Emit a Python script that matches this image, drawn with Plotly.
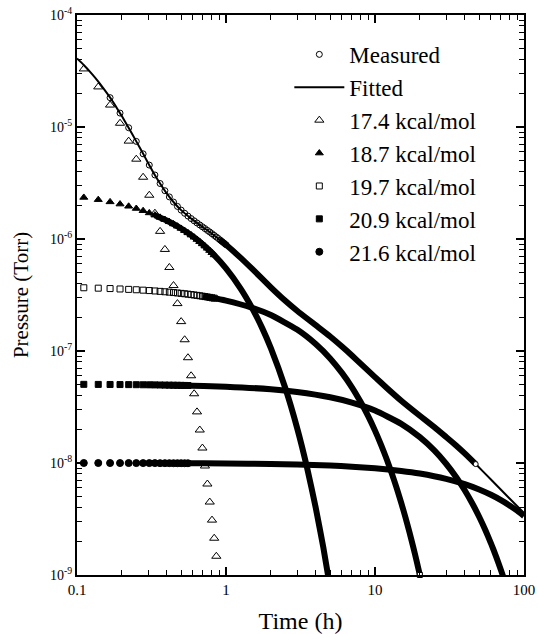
import plotly.graph_objects as go

# ---------------- data ----------------
# sampling times of the separated markers (h)
t_sample = [0.1111, 0.1389, 0.1667, 0.1944, 0.2222, 0.25, 0.2778, 0.3056, 0.3333,
            0.3611, 0.3889, 0.4167, 0.4444, 0.4722, 0.5, 0.5278, 0.5556, 0.5833,
            0.6111, 0.6389, 0.6667, 0.6944, 0.7222, 0.75, 0.7778, 0.8056, 0.8333,
            0.8611, 0.8889, 0.9167, 0.9444, 0.9722, 1.0]

# Measured (open circles), starts at the 3rd sample time
meas_pts = [1.828e-5, 1.331e-5, 9.85e-6, 7.44e-6, 5.76e-6, 4.57e-6, 3.73e-6, 3.13e-6,
            2.70e-6, 2.376e-6, 2.137e-6, 1.954e-6, 1.811e-6, 1.697e-6, 1.602e-6,
            1.522e-6, 1.453e-6, 1.391e-6, 1.336e-6, 1.285e-6, 1.239e-6, 1.194e-6,
            1.154e-6, 1.115e-6, 1.077e-6, 1.042e-6, 1.009e-6, 0.976e-6, 0.946e-6,
            0.917e-6, 0.889e-6]
meas_t = [0.9, 1.0, 1.25, 1.5, 2, 2.5, 3, 4, 5, 6, 7, 8, 10, 12, 15, 20, 25, 30,
          35, 40, 47.4]
meas_p = [9.93e-7, 8.87e-7, 6.82e-7, 5.405e-7, 3.707e-7, 2.811e-7, 2.289e-7,
          1.699e-7, 1.348e-7, 1.097e-7, 9.13e-8, 7.71e-8, 5.85e-8, 4.68e-8,
          3.60e-8, 2.64e-8, 2.09e-8, 1.707e-8, 1.434e-8, 1.218e-8, 9.78e-9]

# Fitted (solid line)
fit_t = [0.1, 0.111, 0.125, 0.139, 0.15, 0.167, 0.18, 0.2, 0.222, 0.25, 0.278, 0.3,
         0.333, 0.361, 0.4, 0.45, 0.5, 0.6, 0.7, 0.8, 1, 1.5, 2, 3, 5, 7, 10, 15,
         20, 30, 40, 47.4, 60, 80, 100]
fit_p = [4.095e-5, 3.578e-5, 3.013e-5, 2.544e-5, 2.226e-5, 1.828e-5, 1.567e-5,
         1.251e-5, 9.85e-6, 7.44e-6, 5.76e-6, 4.78e-6, 3.73e-6, 3.13e-6, 2.555e-6,
         2.096e-6, 1.810e-6, 1.479e-6, 1.274e-6, 1.121e-6, 8.87e-7, 5.405e-7,
         3.707e-7, 2.289e-7, 1.348e-7, 9.13e-8, 5.78e-8, 3.526e-8, 2.605e-8,
         1.707e-8, 1.218e-8, 9.78e-9, 7.12e-9, 4.82e-9, 3.58e-9]

# 17.4 kcal/mol (open triangles)
p174_pts = [3.30e-5, 2.28e-5, 1.57e-5, 1.08e-5, 7.48e-6, 5.16e-6, 3.56e-6, 2.46e-6,
            1.70e-6, 1.17e-6, 8.07e-7, 5.57e-7, 3.84e-7, 2.65e-7, 1.83e-7, 1.26e-7,
            8.71e-8, 6.01e-8, 4.15e-8, 2.86e-8, 1.97e-8, 1.36e-8, 9.40e-9, 6.49e-9,
            4.48e-9, 3.09e-9, 2.13e-9, 1.47e-9]

# 18.7 kcal/mol (filled triangles)
p187_pts = [2.350e-6, 2.245e-6, 2.145e-6, 2.050e-6, 1.959e-6, 1.872e-6, 1.788e-6,
            1.709e-6, 1.633e-6, 1.560e-6, 1.491e-6, 1.424e-6, 1.361e-6, 1.300e-6,
            1.242e-6, 1.187e-6, 1.134e-6, 1.084e-6, 1.036e-6, 0.990e-6, 0.946e-6,
            0.904e-6, 0.864e-6, 0.825e-6, 0.789e-6, 0.754e-6, 0.720e-6]
p187_t = [0.333, 0.4, 0.5, 0.6, 0.7, 0.8, 1.0, 1.25, 1.5, 1.75, 2.0, 2.5, 3.0, 3.5,
          4.0, 4.5, 5.0]
p187_p = [1.633e-6, 1.463e-6, 1.241e-6, 1.054e-6, 8.94e-7, 7.59e-7, 5.47e-7, 3.63e-7,
          2.41e-7, 1.60e-7, 1.06e-7, 4.67e-8, 2.06e-8, 9.06e-9, 3.99e-9, 1.76e-9,
          7.7e-10]

# 19.7 kcal/mol (open squares)
p197_pts = [3.670e-7, 3.640e-7, 3.610e-7, 3.580e-7, 3.551e-7, 3.522e-7, 3.493e-7,
            3.464e-7, 3.436e-7, 3.408e-7, 3.380e-7, 3.352e-7, 3.324e-7, 3.297e-7,
            3.270e-7, 3.243e-7, 3.217e-7, 3.190e-7, 3.164e-7, 3.138e-7, 3.112e-7,
            3.086e-7, 3.061e-7, 3.036e-7, 3.011e-7, 2.986e-7, 2.962e-7]
p197_t = [0.7, 0.8, 1, 1.5, 2, 3, 4, 5, 6, 7, 8, 9, 10, 11, 12, 13, 14, 15, 16, 17,
          18, 19, 20, 21]
p197_p = [3.081e-7, 2.991e-7, 2.82e-7, 2.43e-7, 2.094e-7, 1.556e-7, 1.156e-7,
          8.59e-8, 6.38e-8, 4.745e-8, 3.52e-8, 2.62e-8, 1.946e-8, 1.446e-8,
          1.075e-8, 7.99e-9, 5.93e-9, 4.41e-9, 3.28e-9, 2.43e-9, 1.81e-9,
          1.344e-9, 1.0e-9, 7.4e-10]

# 20.9 kcal/mol (filled squares)
p209_pts = [5.040e-8, 5.032e-8, 5.025e-8, 5.017e-8, 5.010e-8, 5.002e-8, 4.994e-8,
            4.987e-8, 4.979e-8, 4.972e-8, 4.964e-8, 4.957e-8, 4.949e-8, 4.942e-8,
            4.934e-8, 4.927e-8, 4.919e-8]
p209_t = [0.3, 0.5, 1, 2, 3, 5, 7, 10, 15, 20, 25, 30, 35, 40, 45, 50, 55, 60, 65,
          70, 75]
p209_p = [4.99e-8, 4.93e-8, 4.80e-8, 4.55e-8, 4.30e-8, 3.86e-8, 3.46e-8, 2.94e-8,
          2.235e-8, 1.70e-8, 1.295e-8, 9.85e-9, 7.50e-9, 5.71e-9, 4.35e-9, 3.31e-9,
          2.52e-9, 1.92e-9, 1.46e-9, 1.11e-9, 8.45e-10]

# 21.6 kcal/mol (filled circles)
p216_pts = [1.000e-8, 1.000e-8, 0.999e-8, 0.999e-8, 0.999e-8, 0.998e-8, 0.998e-8,
            0.998e-8, 0.998e-8, 0.997e-8, 0.997e-8, 0.997e-8, 0.996e-8, 0.996e-8,
            0.996e-8, 0.995e-8, 0.995e-8]
p216_t = [0.3, 0.5, 1, 2, 3, 5, 7, 10, 15, 20, 30, 40, 50, 60, 70, 80, 90, 100]
p216_p = [9.98e-9, 9.96e-9, 9.90e-9, 9.79e-9, 9.69e-9, 9.48e-9, 9.28e-9, 8.98e-9,
          8.50e-9, 8.05e-9, 7.22e-9, 6.47e-9, 5.80e-9, 5.20e-9, 4.66e-9, 4.18e-9,
          3.75e-9, 3.36e-9]

legend_names = ["Measured", "Fitted", "17.4 kcal/mol", "18.7 kcal/mol",
                "19.7 kcal/mol", "20.9 kcal/mol", "21.6 kcal/mol"]

y_tickvals = [1e-9, 1e-8, 1e-7, 1e-6, 1e-5, 1e-4]
y_ticktext = ["10<sup>-9</sup>", "10<sup>-8</sup>", "10<sup>-7</sup>",
              "10<sup>-6</sup>", "10<sup>-5</sup>", "10<sup>-4</sup>"]
x_tickvals = [0.1, 1, 10, 100]
x_ticktext = ["0.1", "1", "10", "100"]

# ---------------- figure ----------------
FONT = "Liberation Serif"
BAND = 6
fig = go.Figure()


def band(x, y):
    fig.add_trace(go.Scatter(x=x, y=y, mode="lines", showlegend=False,
                             line=dict(color="black", width=BAND, shape="spline",
                                       smoothing=0.5),
                             hoverinfo="skip"))


def pts(x, y, symbol, size, name, rank, lw=1.0):
    fig.add_trace(go.Scatter(x=x, y=y, mode="markers", name=name,
                             legendrank=rank, legendgroup=name,
                             marker=dict(symbol=symbol, size=size, color="black",
                                         line=dict(color="black", width=lw))))


# dense (overlapping-marker) bands
band(p216_t, p216_p)
band(p209_t, p209_p)
band(p197_t, p197_p)
band(p187_t, p187_p)
band(meas_t, meas_p)

# fitted line
fig.add_trace(go.Scatter(x=fit_t, y=fit_p, mode="lines", name=legend_names[1],
                         legendrank=2, legendgroup=legend_names[1],
                         line=dict(color="black", width=2, shape="spline",
                                   smoothing=0.5)))

# separated markers
pts(t_sample[:len(p216_pts)], p216_pts, "circle", 7, legend_names[6], 7)
pts(t_sample[:len(p209_pts)], p209_pts, "square", 6, legend_names[5], 6)
pts(t_sample[:len(p197_pts)], p197_pts, "square-open", 6, legend_names[4], 5)
pts(t_sample[:len(p187_pts)], p187_pts, "triangle-up", 7, legend_names[3], 4)
pts(t_sample[2:2 + len(meas_pts)], meas_pts, "circle-open", 6, legend_names[0], 1)
pts(t_sample[:len(p174_pts)], p174_pts, "triangle-up-open", 8, legend_names[2], 3)

# end markers visible at the tip of the dense bands
fig.add_trace(go.Scatter(x=[meas_t[-1]], y=[meas_p[-1]], mode="markers",
                         showlegend=False, cliponaxis=False,
                         marker=dict(symbol="circle", size=5, color="white",
                                     line=dict(color="black", width=1))))
i20 = p197_t.index(20)
fig.add_trace(go.Scatter(x=[p197_t[i20]], y=[p197_p[i20]], mode="markers",
                         showlegend=False, cliponaxis=False,
                         marker=dict(symbol="square", size=5, color="white",
                                     line=dict(color="black", width=1))))

minor_y = [m * 10 ** e for e in range(-9, -4) for m in range(2, 10)]
minor_x = [m * 10 ** e for e in range(-1, 2) for m in range(2, 10)]

axis_common = dict(showline=True, linecolor="black", linewidth=2, mirror="allticks",
                   ticks="inside", ticklen=8, tickwidth=1.5, tickcolor="black",
                   showgrid=False, zeroline=False, tickmode="array",
                   automargin=False)

fig.update_xaxes(type="log", range=[-1, 2], tickvals=x_tickvals, ticktext=x_ticktext,
                 tickfont=dict(family=FONT, size=15, color="black"),
                 minor=dict(ticks="inside", ticklen=5, tickwidth=1.2, tickcolor="black",
                            tickvals=minor_x, showgrid=False),
                 title=dict(text="Time (h)", font=dict(family=FONT, size=24,
                                                       color="black"), standoff=16),
                 **axis_common)
fig.update_yaxes(type="log", range=[-9, -4], tickvals=y_tickvals, ticktext=y_ticktext,
                 tickfont=dict(family=FONT, size=14, color="black"),
                 minor=dict(ticks="inside", ticklen=5, tickwidth=1.2, tickcolor="black",
                            tickvals=minor_y, showgrid=False),
                 title=dict(text="Pressure (Torr)", font=dict(family=FONT, size=21,
                                                              color="black"),
                            standoff=16),
                 **axis_common)

fig.update_layout(
    width=539, height=634,
    margin=dict(l=77, r=15, t=15, b=59),
    paper_bgcolor="white", plot_bgcolor="white",
    font=dict(family=FONT, color="black"),
    legend=dict(x=0.475, y=0.968, xanchor="left", yanchor="top",
                bgcolor="rgba(0,0,0,0)", borderwidth=0,
                font=dict(family=FONT, size=23, color="black"),
                tracegroupgap=0, itemwidth=50),
)

fig.write_html("out.html")
